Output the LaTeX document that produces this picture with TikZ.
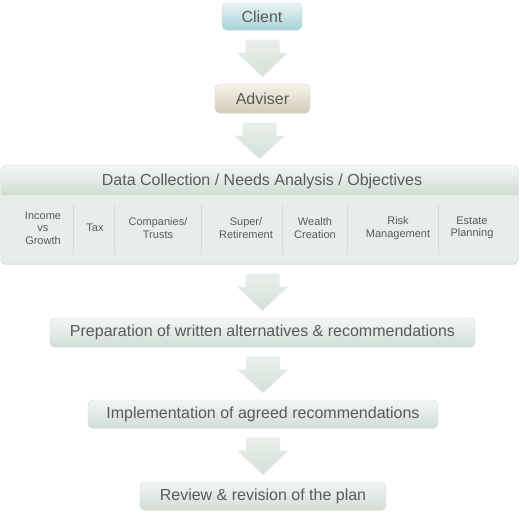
\documentclass[tikz,border=0pt]{standalone}
\usepackage{fontspec}
\setmainfont{Liberation Sans}
\usetikzlibrary{calc,shadows}
\definecolor{txt}{HTML}{5A5A5A}
\definecolor{boxtop}{HTML}{F3F7F4}
\definecolor{boxbot}{HTML}{D2DDD6}
\definecolor{boxline}{HTML}{CCD8D0}
\definecolor{cltop}{HTML}{E8F4F4}
\definecolor{clbot}{HTML}{A8D2D6}
\definecolor{clline}{HTML}{B4D8DA}
\definecolor{advtop}{HTML}{F5F2EA}
\definecolor{advbot}{HTML}{D5CCB7}
\definecolor{advline}{HTML}{D8D0BE}
\definecolor{body}{HTML}{E7EEE9}
\definecolor{sep}{HTML}{D3DDD6}
\definecolor{arrtop}{HTML}{E9EFEA}
\definecolor{arrbot}{HTML}{D5E0D9}
\tikzset{
	box/.style={rounded corners=5pt, draw=boxline, top color=boxtop, bottom color=boxbot,%
		text=txt, font=\fontsize{16}{18}\selectfont,%
		drop shadow={opacity=.12, shadow xshift=0pt, shadow yshift=-1pt}},
	clientbox/.style={box, draw=clline, top color=cltop, bottom color=clbot},
	adviserbox/.style={box, draw=advline, top color=advtop, bottom color=advbot},
	item/.style={text=txt, align=center, font=\fontsize{11}{12.5}\selectfont, inner sep=0pt},
	arrowshade/.style={top color=arrtop, bottom color=arrbot}
}
\newcommand{\flowarrow}[2]{%
	\shade[arrowshade] ($(#1.south -| #2.north)+(-17,9.5)$) -- ++(34,0) -- ++(0,13) -- ++(8.5,0)%
	-- ($(#2.north)+(0,-7)$) -- ($(#1.south -| #2.north)+(-25.5,22.5)$) -- ++(8.5,0) -- cycle;}
\begin{document}
\begin{tikzpicture}[x=1pt,y=-1pt]
	\useasboundingbox (0,0) rectangle (520,513);
	\node[clientbox, minimum width=80pt, minimum height=27pt] (client) at (262,16.5) {Client};
	\node[adviserbox, minimum width=95pt, minimum height=29pt] (adviser) at (262.5,98.5) {Adviser};
	% data collection panel
	\node[rounded corners=5pt, draw=boxline, fill=body, minimum width=517pt, minimum height=98pt,%
		drop shadow={opacity=.12, shadow xshift=0pt, shadow yshift=-1pt}] (collect) at (259.5,215) {};
	\begin{scope}
		\clip[rounded corners=5pt] (collect.south west) rectangle (collect.north east);
		\shade[top color=boxtop, bottom color=boxbot] (collect.north west) rectangle ($(collect.north east)+(0,28)$);
	\end{scope}
	\draw[boxline, rounded corners=5pt] (collect.south west) rectangle (collect.north east);
	\draw[boxline] ($(collect.north west)+(0,28)$) -- ($(collect.north east)+(0,28)$);
	\node[text=txt, font=\fontsize{16}{18}\selectfont] (title) at (262,181) {Data Collection / Needs Analysis / Objectives};
	\foreach \x/\t [count=\i] in {43/{Income\\vs\\Growth}, 95/Tax, 158/{Companies/\\Trusts},%
		246/{Super/\\Retirement}, 315/{Wealth\\Creation}, 398/{Risk\\Management}, 472/{Estate\\Planning}}
		\node[item] (col\i) at (\x,228) {\t};
	\foreach \x in {73,114,201,282,347,438}
		\draw[sep] (\x,205) -- (\x,254);
	% steps
	\node[box, minimum width=425pt, minimum height=29pt] (prep) at (262.5,332.5) {Preparation of written alternatives \& recommendations};
	\node[box, minimum width=350pt, minimum height=28pt] (impl) at (263,414) {Implementation of agreed recommendations};
	\node[box, minimum width=246pt, minimum height=28pt] (review) at (263,496) {Review \& revision of the plan};
	\flowarrow{client}{adviser}
	\flowarrow{adviser}{collect}
	\flowarrow{collect}{prep}
	\flowarrow{prep}{impl}
	\flowarrow{impl}{review}
\end{tikzpicture}
\end{document}
